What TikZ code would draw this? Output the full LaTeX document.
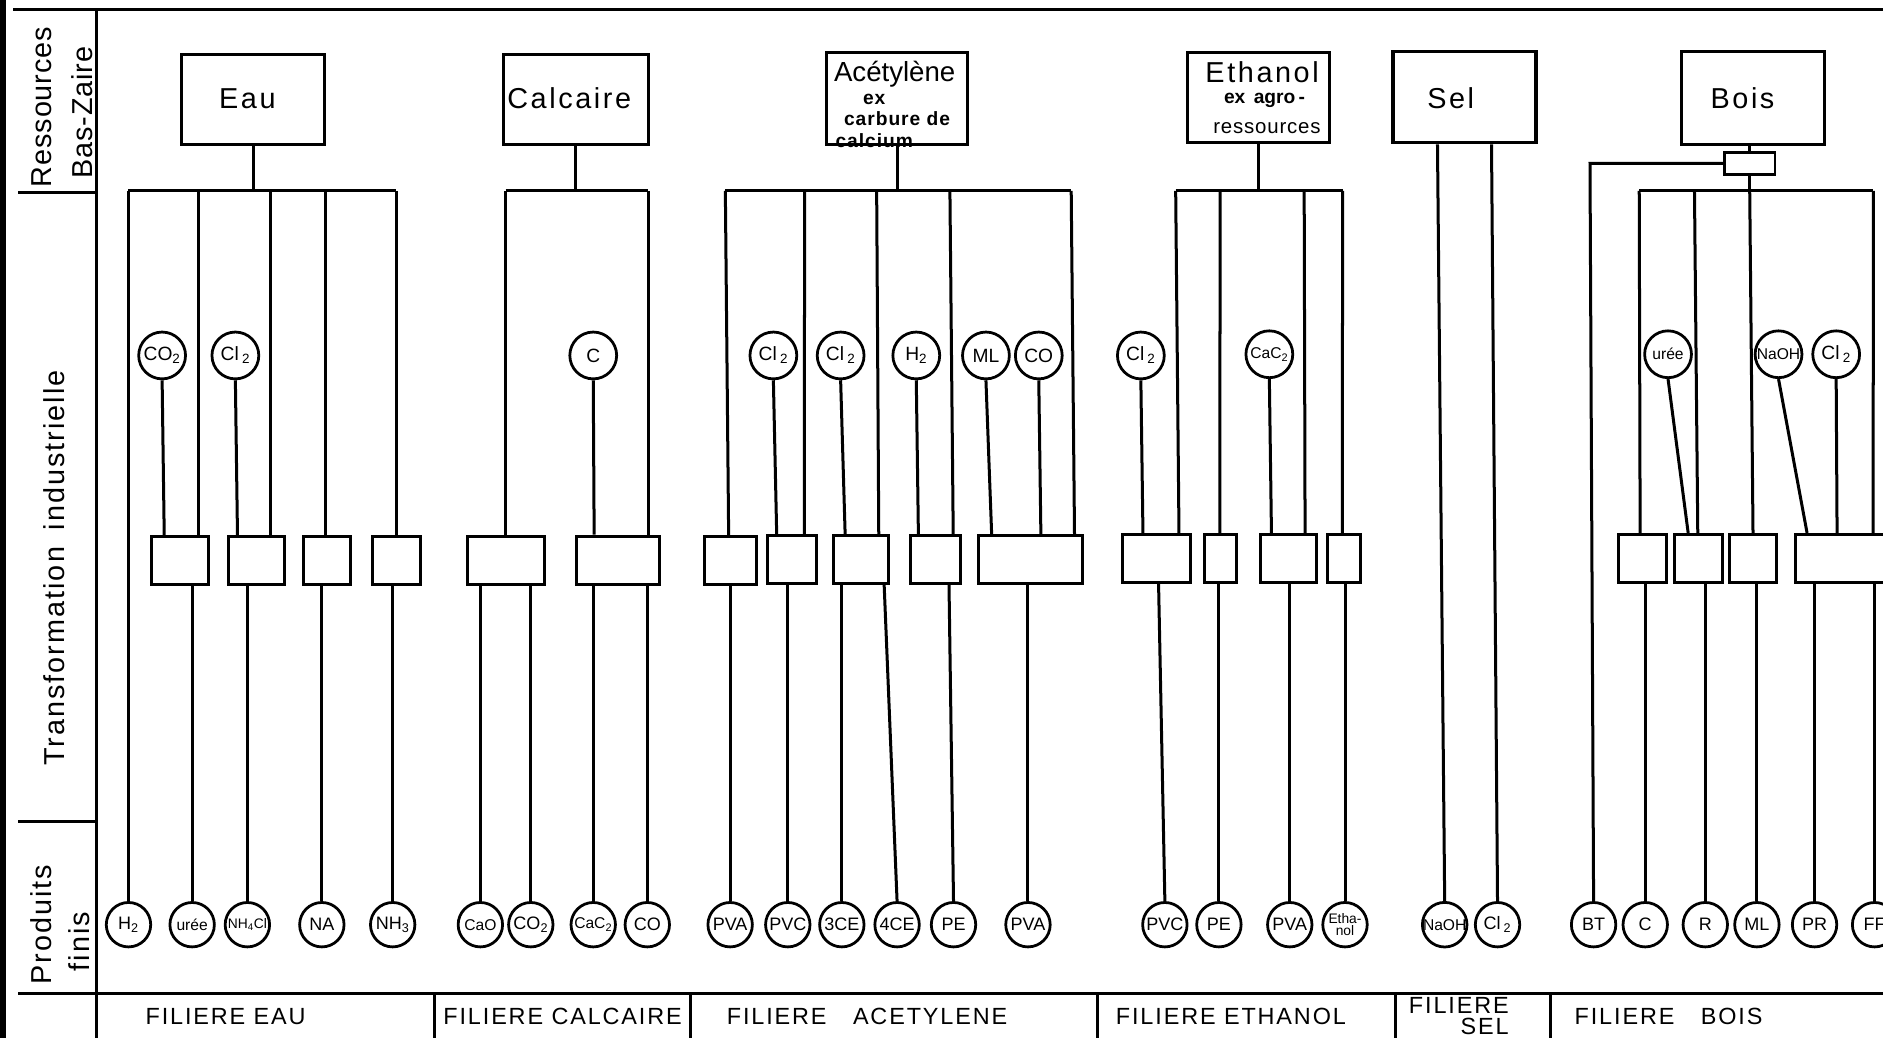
\documentclass[tikz,border=0pt]{standalone}
\usepackage{fontspec}
\setmainfont{Liberation Sans}
\begin{document}
\begin{tikzpicture}[x=1pt,y=-1pt, line width=2.5pt,
  every node/.style={inner sep=0pt},
  resbox/.style={draw, line width=2.6pt, minimum width=119pt, minimum height=75pt},
  restext/.style={anchor=base, font=\fontsize{24}{24}\selectfont\addfontfeature{LetterSpace=9}},
  subtext/.style={anchor=base, font=\fontsize{16}{16}\selectfont\bfseries\addfontfeature{LetterSpace=5}},
  pbox/.style={draw, line width=2.5pt, minimum height=40pt},
  midc/.style={draw, circle, fill=white, line width=2.3pt, minimum size=39pt, font=\fontsize{16}{16}\selectfont},
  endc/.style={draw, circle, fill=white, line width=2.3pt, minimum size=37pt, font=\fontsize{15}{15}\selectfont},
  small/.style={font=\fontsize{13}{13}\selectfont},
  tiny/.style={font=\fontsize{11.5}{10}\selectfont},
  side/.style={rotate=90, anchor=west, font=\fontsize{24}{24}\selectfont\addfontfeature{LetterSpace=7}},
  band/.style={anchor=base west, font=\fontsize{19.5}{17}\selectfont\addfontfeature{LetterSpace=8}}
]
\useasboundingbox (0,0) rectangle (1568,864);
\clip (0,0) rectangle (1568,864);
\fill[white] (0,0) rectangle (1568,864);

% ---------- frame ----------
\draw[line width=5pt] (2.5,0) -- (2.5,864);
\draw (11,7.5) -- (1568,7.5);
\draw (80,7.5) -- (80,864);
\draw (15,160) -- (80,160);
\draw (15,684) -- (80,684);
\draw (15,827) -- (1568,827);
\foreach \x in {362,575,914,1162,1291} \draw (\x,827) -- (\x,864);

% ---------- side labels ----------
\node[side, font=\fontsize{24}{24}\selectfont\addfontfeature{LetterSpace=3}] (lres) at (34.5,157) {Ressources};
\node[side, font=\fontsize{24}{24}\selectfont\addfontfeature{LetterSpace=3}] (lbas) at (68.5,150) {Bas-Zaire};
\node[side] (ltr) at (45,639) {Transformation\hspace{14pt}industrielle};
\node[side] (lprod) at (34,821) {Produits};
\node[side] (lfin) at (66,810) {finis};

% ---------- band labels ----------
\node[band] (fEau) at (120,853) {FILIERE EAU};
\node[band] (fCal) at (368,853) {FILIERE CALCAIRE};
\node[band] (fAce) at (604,853) {FILIERE\hspace{22pt}ACETYLENE};
\node[band] (fEth) at (928,853) {FILIERE ETHANOL};
\node[band, align=right, anchor=north west] (fSel) at (1172,829.5) {FILIERE\\SEL};
\node[band] (fBois) at (1310,853) {FILIERE\hspace{22pt}BOIS};

% ---------- resources ----------
\node[resbox] (rEau) at (211,83) {};
\node[restext] (tEau) at (206,90) {Eau};
\node[resbox, minimum width=121pt] (rCal) at (479.5,83) {};
\node[restext] (tCal) at (474,90) {Calcaire};
\node[resbox, minimum width=118pt, minimum height=76pt] (rAce) at (747,82) {};
\node[restext, font=\fontsize{23}{23}\selectfont] (tAce) at (745,68) {Acétylène};
\node[subtext] (tAce2) at (728,87) {ex};
\node[subtext] (tAce3) at (747,104.5) {carbure de};
\node[subtext] (tAce4) at (728,123) {calcium};
\node[resbox, minimum width=118pt] (rEth) at (1048,81.5) {};
\node[restext] (tEth) at (1051,69) {Ethanol};
\node[subtext, font=\fontsize{16}{16}\selectfont\bfseries] (tEth2) at (1053,86) {ex\hspace{7pt}agro\,-};
\node[subtext, font=\fontsize{17}{17}\selectfont\addfontfeature{LetterSpace=4}] (tEth3) at (1055,111) {ressources};
\node[resbox, minimum height=76pt] (rSel) at (1219.5,81) {};
\node[restext] (tSel) at (1208,90) {Sel};
\node[resbox, minimum height=77pt] (rBois) at (1459.5,81.5) {};
\node[restext] (tBois) at (1451,90) {Bois};
\node[draw, line width=2.4pt, minimum width=42pt, minimum height=18pt] (sbB) at (1457,136) {};

% ---------- process boxes ----------
\node[pbox, minimum width=48pt] (E1) at (150,467) {};
\node[pbox, minimum width=47pt] (E2) at (213.5,467) {};
\node[pbox, minimum width=39pt] (E3) at (272.5,467) {};
\node[pbox, minimum width=40pt] (E4) at (330,467) {};
\node[pbox, minimum width=64pt] (C1) at (421,467) {};
\node[pbox, minimum width=69pt] (C2) at (514.5,466.5) {};
\node[pbox, minimum width=43pt] (A1) at (608.5,467) {};
\node[pbox, minimum width=41pt] (A2) at (659.5,466) {};
\node[pbox, minimum width=46pt] (A3) at (717,466) {};
\node[pbox, minimum width=42pt] (A4) at (779,466) {};
\node[pbox, minimum width=86pt] (A5) at (858,466) {};
\node[pbox, minimum width=56pt] (T1) at (963,465) {};
\node[pbox, minimum width=27pt] (T2) at (1016.5,465) {};
\node[pbox, minimum width=46pt] (T3) at (1073,465) {};
\node[pbox, minimum width=28pt] (T4) at (1119,465) {};
\node[pbox, minimum width=40pt] (B1) at (1368,465) {};
\node[pbox, minimum width=40pt] (B2) at (1414,465) {};
\node[pbox, minimum width=39pt] (B3) at (1459.5,465) {};
\node[pbox, minimum width=105pt] (B4) at (1547.5,465) {};

% ---------- intermediate circles ----------
\node[midc] (mCO2) at (135,296) {CO\textsubscript{2}};
\node[midc] (mCl2a) at (196,296) {Cl\,\textsubscript{2}};
\node[midc] (mC) at (494,296) {C};
\node[midc] (mCl2b) at (644,296) {Cl\,\textsubscript{2}};
\node[midc] (mCl2c) at (700,296) {Cl\,\textsubscript{2}};
\node[midc] (mH2) at (763,296) {H\textsubscript{2}};
\node[midc] (mML) at (821,296) {ML};
\node[midc] (mCO) at (865,296) {CO};
\node[midc] (mCl2d) at (950,296) {Cl\,\textsubscript{2}};
\node[midc, small] (mCaC2) at (1057,295) {CaC\textsubscript{2}};
\node[midc, small] (mUree) at (1389,295) {urée};
\node[midc, small] (mNaOH) at (1481,295) {NaOH};
\node[midc] (mCl2e) at (1529,295) {Cl\,\textsubscript{2}};

% ---------- final products ----------
\node[endc] (pH2) at (107,770) {H\textsubscript{2}};
\node[endc, small] (pUree) at (160,770) {urée};
\node[endc, tiny] (pNH4Cl) at (206,770) {NH\textsubscript{4}Cl};
\node[endc] (pNA) at (268,770) {NA};
\node[endc] (pNH3) at (327,770) {NH\textsubscript{3}};
\node[endc, small] (pCaO) at (400,770) {CaO};
\node[endc] (pCO2) at (442,770) {CO\textsubscript{2}};
\node[endc, small] (pCaC2) at (494,770) {CaC\textsubscript{2}};
\node[endc] (pCO) at (539,770) {CO};
\node[endc] (pPVAa) at (608,770) {PVA};
\node[endc] (pPVCa) at (656,770) {PVC};
\node[endc] (p3CE) at (701,770) {3CE};
\node[endc] (p4CE) at (747,770) {4CE};
\node[endc] (pPEa) at (794,770) {PE};
\node[endc] (pPVAb) at (856,770) {PVA};
\node[endc] (pPVCb) at (970,770) {PVC};
\node[endc] (pPEb) at (1015,770) {PE};
\node[endc] (pPVAc) at (1074,770) {PVA};
\node[endc, tiny, align=center] (pEth) at (1120,770) {Etha-\\nol};
\node[endc, small] (pNaOH) at (1203,770) {NaOH};
\node[endc] (pCl2) at (1247,770) {Cl\,\textsubscript{2}};
\node[endc] (pBT) at (1327,770) {BT};
\node[endc] (pC) at (1370,770) {C};
\node[endc] (pR) at (1420,770) {R};
\node[endc] (pML) at (1463,770) {ML};
\node[endc] (pPR) at (1511,770) {PR};
\node[endc] (pFF) at (1561,770) {FF};

% ---------- EAU ----------
\coordinate (eb1) at (107,159);
\coordinate (eb2) at (165,159);
\coordinate (eb3) at (225,159);
\coordinate (eb4) at (271,159);
\coordinate (eb5) at (330,159);
\draw (eb1) -- (eb5);
\draw (rEau.south) -- (rEau.south |- eb1);
\draw (eb1) -- (pH2.north);
\draw (eb2) -- (eb2 |- E1.north);
\draw (eb3) -- (eb3 |- E2.north);
\draw (eb4) -- (eb4 |- E3.north);
\draw (eb5) -- (eb5 |- E4.north);
\draw (mCO2.south) -- ([xshift=12pt]E1.north west);
\draw (mCl2a.south) -- ([xshift=9pt]E2.north west);
\draw (E1.south -| pUree.north) -- (pUree.north);
\draw (E2.south -| pNH4Cl.north) -- (pNH4Cl.north);
\draw (E3.south -| pNA.north) -- (pNA.north);
\draw (E4.south -| pNH3.north) -- (pNH3.north);

% ---------- CALCAIRE ----------
\coordinate (cb1) at (421,159);
\coordinate (cb2) at (540,159);
\draw (cb1) -- (cb2);
\draw (rCal.south) -- (rCal.south |- cb1);
\draw (cb1) -- (cb1 |- C1.north);
\draw (cb2) -- (cb2 |- C2.north);
\draw (mC.south) -- ([xshift=16pt]C2.north west);
\draw (C1.south -| pCaO.north) -- (pCaO.north);
\draw (C1.south -| pCO2.north) -- (pCO2.north);
\draw (C2.south -| pCaC2.north) -- (pCaC2.north);
\draw (C2.south -| pCO.north) -- (pCO.north);

% ---------- ACETYLENE ----------
\coordinate (ab1) at (604,159);
\coordinate (ab2) at (670,159);
\coordinate (ab3) at (730,159);
\coordinate (ab4) at (791,159);
\coordinate (ab5) at (892,159);
\draw (ab1) -- (ab5);
\draw (rAce.south) -- (rAce.south |- ab1);
\draw (ab1) -- ([xshift=21pt]A1.north west);
\draw (ab2) -- ([xshift=32pt]A2.north west);
\draw (ab3) -- ([xshift=39pt]A3.north west);
\draw (ab4) -- ([xshift=37pt]A4.north west);
\draw (ab5) -- ([xshift=81pt]A5.north west);
\draw (mCl2b.south) -- ([xshift=9pt]A2.north west);
\draw (mCl2c.south) -- ([xshift=11pt]A3.north west);
\draw (mH2.south) -- ([xshift=8pt]A4.north west);
\draw (mML.south) -- ([xshift=12pt]A5.north west);
\draw (mCO.south) -- ([xshift=53pt]A5.north west);
\draw (A1.south -| pPVAa.north) -- (pPVAa.north);
\draw (A2.south -| pPVCa.north) -- (pPVCa.north);
\draw (A3.south -| p3CE.north) -- (p3CE.north);
\draw ([xshift=-5pt]A3.south east) -- (p4CE.north);
\draw ([xshift=-11pt]A4.south east) -- (pPEa.north);
\draw (A5.south -| pPVAb.north) -- (pPVAb.north);

% ---------- ETHANOL ----------
\coordinate (tb1) at (979,159);
\coordinate (tb2) at (1016,159);
\coordinate (tb3) at (1086,159);
\coordinate (tb4) at (1118,159);
\draw (tb1) -- (tb4);
\draw (rEth.south) -- (rEth.south |- tb1);
\draw (tb1) -- ([xshift=48pt]T1.north west);
\draw (tb2) -- ([xshift=14pt]T2.north west);
\draw (tb3) -- ([xshift=38pt]T3.north west);
\draw (tb4) -- ([xshift=14pt]T4.north west);
\draw (mCl2d.south) -- ([xshift=18pt]T1.north west);
\draw (mCaC2.south) -- ([xshift=10pt]T3.north west);
\draw ([xshift=31pt]T1.south west) -- (pPVCb.north);
\draw (T2.south -| pPEb.north) -- (pPEb.north);
\draw (T3.south -| pPVAc.north) -- (pPVAc.north);
\draw (T4.south -| pEth.north) -- (pEth.north);

% ---------- SEL ----------
\draw ([xshift=-22.5pt]rSel.south) -- (pNaOH.north);
\draw ([xshift=22.5pt]rSel.south) -- (pCl2.north);

% ---------- BOIS ----------
\coordinate (bb1) at (1365,159);
\coordinate (bb2) at (1411,159);
\coordinate (bb3) at (1457,159);
\coordinate (bb4) at (1560,159);
\coordinate (btc) at (1324,136);
\draw (bb1) -- (bb4);
\draw (sbB.north |- rBois.south) -- (sbB.north);
\draw (sbB.south) -- (bb3);
\draw (sbB.west) -- (btc) -- (pBT.north);
\draw (bb1) -- ([xshift=19pt]B1.north west);
\draw (bb2) -- ([xshift=21pt]B2.north west);
\draw (bb3) -- ([xshift=21pt]B3.north west);
\draw (bb4) -- ([xshift=66pt]B4.north west);
\draw (mUree.south) -- ([xshift=13pt]B2.north west);
\draw (mNaOH.south) -- ([xshift=11pt]B4.north west);
\draw (mCl2e.south) -- ([xshift=36pt]B4.north west);
\draw (B1.south -| pC.north) -- (pC.north);
\draw (B2.south -| pR.north) -- (pR.north);
\draw (B3.south -| pML.north) -- (pML.north);
\draw (B4.south -| pPR.north) -- (pPR.north);
\draw (B4.south -| pFF.north) -- (pFF.north);
\end{tikzpicture}
\end{document}
